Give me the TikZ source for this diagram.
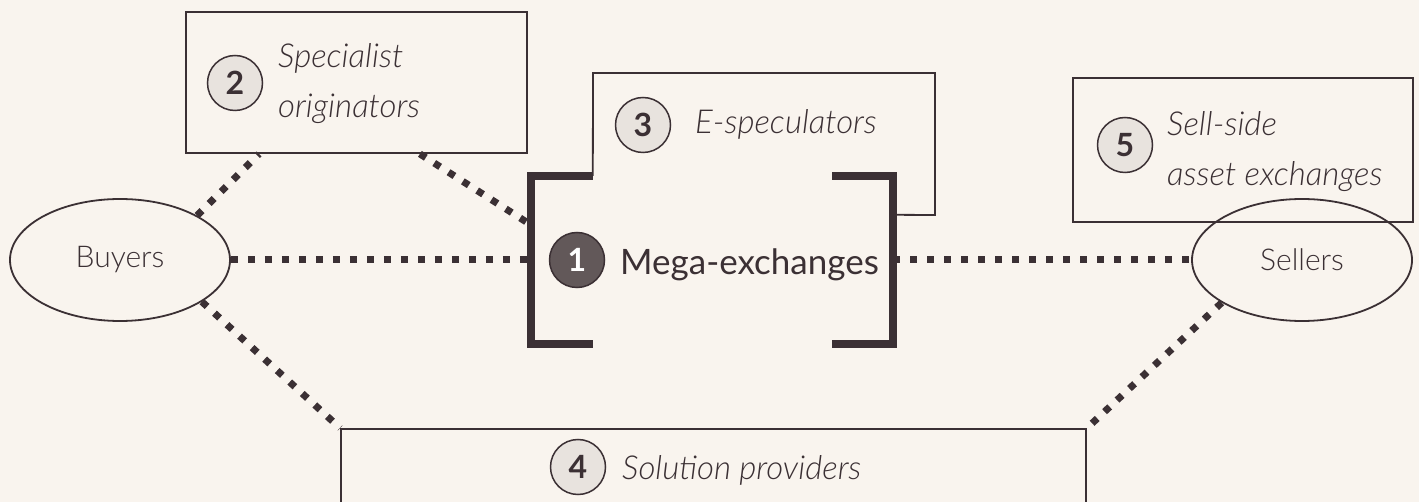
\documentclass[tikz,border=0pt]{standalone}
\usepackage{fontspec}
\setmainfont{Lato}[UprightFont={* Light},ItalicFont={* Light Italic},BoldFont={* Bold},BoldItalicFont={* Bold Italic}]
\newfontfamily\latoregular{Lato}
\usetikzlibrary{shapes.geometric,calc}
\definecolor{bg}{HTML}{F9F4EE}
\definecolor{ink}{HTML}{3B3034}
\definecolor{disc}{HTML}{E8E3DE}
\definecolor{darkdisc}{HTML}{625859}
\begin{document}
\begin{tikzpicture}[x=1pt,y=-1pt,
  thinbox/.style={draw=ink,line width=1.8pt,rectangle,inner sep=0pt},
  oval/.style={draw=ink,line width=1.8pt,ellipse,minimum width=220pt,minimum height=122pt,inner sep=0pt,font=\fontsize{30}{36}\selectfont,text=ink},
  numdisc/.style={circle,draw=ink,line width=1.5pt,fill=disc,minimum size=55pt,inner sep=0pt,font=\fontsize{32}{34}\selectfont\bfseries,text=ink},
  itlabel/.style={font=\fontsize{33}{50}\selectfont\itshape,text=ink,align=left,inner sep=0pt},
  dotline/.style={draw=ink,line width=7pt,dash pattern=on 7pt off 10pt},
  bracketline/.style={draw=ink,line width=8pt,line join=miter},
  outline/.style={draw=ink,line width=1.8pt,line join=miter}]
\useasboundingbox (0,0) rectangle (1419,502);
\clip (0,0) rectangle (1419,502);
\fill[bg] (0,0) rectangle (1419,502);

% ellipses
\node[oval] (buyers) at (120,260) {Buyers};
\node[oval] (sellers) at (1302,260) {Sellers};

% boxes
\node[thinbox,minimum width=341pt,minimum height=141pt] (box2) at (356.5,82.5) {};
\node[thinbox,minimum width=340pt,minimum height=144pt] (box5) at (1243,150) {};
\node[thinbox,minimum width=745pt,minimum height=120pt] (box4) at (713.5,489) {};

% mega-exchanges frame (invisible reference node)
\node[minimum width=362pt,minimum height=168pt,inner sep=0pt] (mega) at (712,260) {};

% E-speculators outline
\draw[outline] ($(mega.north west)+(62,0)$) -- (593,73) -- (935,73) -- (935,215) -- ($(mega.north east)+(0,39)$);

% brackets
\draw[bracketline] ($(mega.north west)+(62,0)$) -- (mega.north west) -- (mega.south west) -- ($(mega.south west)+(62,0)$);
\draw[bracketline] ($(mega.north east)+(-61,0)$) -- (mega.north east) -- (mega.south east) -- ($(mega.south east)+(-61,0)$);

% discs and labels
\node[numdisc] (n2) at (235,83) {2};
\node[itlabel,anchor=west] (t2) at (278,84) {Specialist\\originators};

\node[numdisc] (n3) at (643,125) {3};
\node[itlabel,anchor=base west] (t3) at (695,134) {E-speculators};

\node[numdisc,fill=darkdisc,draw=ink,text=white] (n1) at (577,260) {1};
\node[font=\fontsize{35}{40}\selectfont\latoregular,text=ink,inner sep=0pt,anchor=base west] (t1) at (620,275) {Mega-exchanges};

\node[numdisc] (n5) at (1125,145) {5};
\node[itlabel,anchor=west] (t5) at (1167,152) {Sell-side\\asset exchanges};

\node[numdisc] (n4) at (578,467) {4};
\node[itlabel,anchor=base west] (t4) at (622,479) {Solution providers};

% dotted connectors
\draw[dotline] (buyers.east) -- (mega.west);
\draw[dotline] (mega.east) -- (sellers.west);
\draw[dotline] (buyers.30) -- ($(box2.south west)+(74,0)$);
\draw[dotline] ($(box2.south east)+(-108,0)$) -- ($(mega.north west)+(0,49)$);
\draw[dotline] (buyers.-27) -- (box4.north west);
\draw[dotline] (sellers.-152) -- (box4.north east);
\end{tikzpicture}
\end{document}
